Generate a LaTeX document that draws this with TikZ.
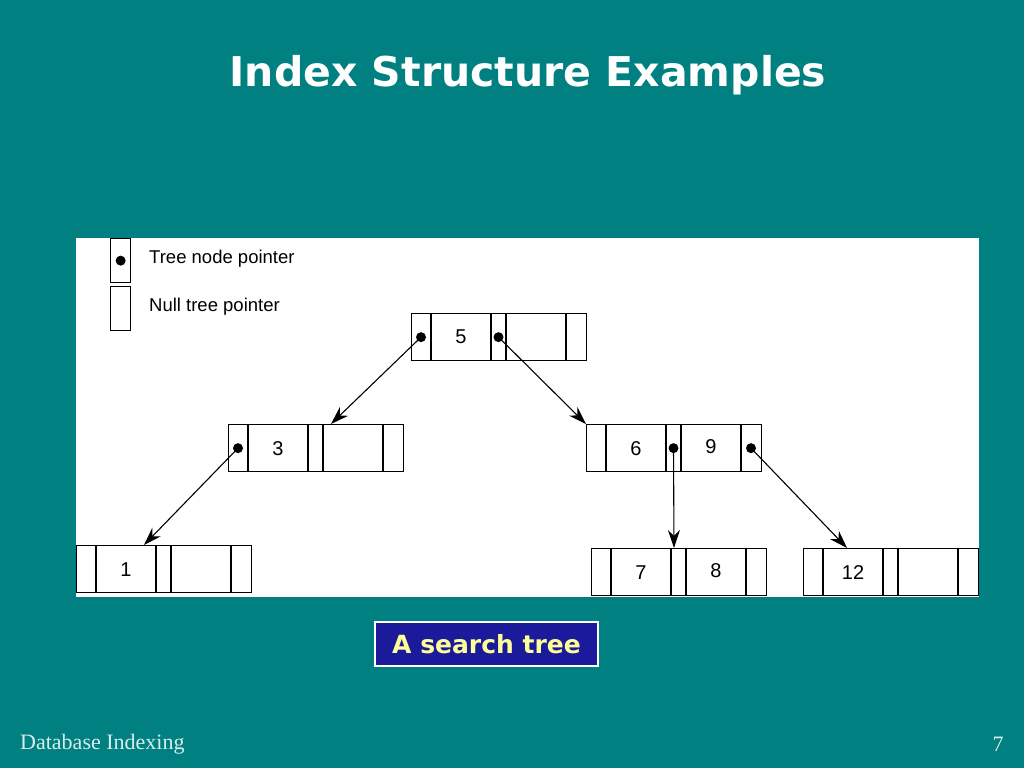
\documentclass[tikz,border=0pt]{standalone}
\usepackage{fontspec}
\setmainfont{Liberation Serif}
\newfontfamily\hv{Liberation Sans}
\newfontfamily\vd{DejaVu Sans}
\usetikzlibrary{arrows.meta,calc}
\definecolor{bg}{HTML}{008080}
\definecolor{capblue}{HTML}{1A1A9A}
\definecolor{capyel}{HTML}{FFFF99}
\tikzset{
  rec/.style={draw,line width=1.3pt,minimum width=175pt,minimum height=47pt,inner sep=0pt,fill=white},
  cell/.style={line width=1.3pt},
  dotp/.style={circle,fill=black,inner sep=0pt,minimum size=10pt},
  ptr/.style={line width=1.1pt,-{Stealth[length=18pt,width=12pt]}},
  lbl/.style={font=\hv\fontsize{20}{20}\selectfont}
}
% \recbox{name}{left x}{top y}{key1}{key2}
\newcommand{\recbox}[5]{%
  \node[rec,anchor=north west] (#1) at (#2,#3) {};
  \draw[cell] ($(#1.north west)+(20,0)$) -- ($(#1.south west)+(20,0)$);
  \draw[cell] ($(#1.north west)+(80,0)$) -- ($(#1.south west)+(80,0)$);
  \draw[cell] ($(#1.north west)+(95,0)$) -- ($(#1.south west)+(95,0)$);
  \draw[cell] ($(#1.north west)+(155,0)$) -- ($(#1.south west)+(155,0)$);
  \node[lbl] (#1k1) at ($(#1.west)+(50,0)$) {#4};
  \node[lbl] (#1k2) at ($(#1.west)+(125,-2)$) {#5};
  \coordinate (#1p0) at ($(#1.west)+(10,0)$);
  \coordinate (#1p1) at ($(#1.west)+(87.5,0)$);
  \coordinate (#1p2) at ($(#1.west)+(165,0)$);
}
\begin{document}
\begin{tikzpicture}[x=1pt,y=-1pt]
\fill[bg] (0,0) rectangle (1024,768);
\useasboundingbox (0,0) rectangle (1024,768);
\node[text=white,font=\vd\bfseries\fontsize{41}{41}\selectfont] (title) at (528,75) {Index Structure Examples};
\fill[white] (76,238) rectangle (979,597);
% legend
\node[draw,line width=1.3pt,minimum width=20pt,minimum height=44pt,inner sep=0pt,anchor=north west] (lg1) at (110,238) {};
\node[dotp] (lgd) at (lg1.center) {};
\node[draw,line width=1.3pt,minimum width=20pt,minimum height=44pt,inner sep=0pt,anchor=north west] (lg2) at (110,286) {};
\node[anchor=west,inner sep=0pt,font=\hv\fontsize{18.5}{18.5}\selectfont] (lt1) at (149,259) {Tree node pointer};
\node[anchor=west,inner sep=0pt,font=\hv\fontsize{18.5}{18.5}\selectfont] (lt2) at (149,307) {Null tree pointer};
% records
\recbox{a}{411}{313}{5}{}
\recbox{b}{228}{424}{3}{}
\recbox{c}{586}{424}{6}{9}
\recbox{d}{76}{545}{1}{}
\recbox{e}{591}{548}{7}{8}
\recbox{f}{803}{548}{12}{}
% dots
\foreach \p in {ap0,ap1,bp0,cp1,cp2} \node[dotp] (\p d) at (\p) {};
% pointers
\draw[ptr] (ap0) -- ($(b.north west)+(103,0)$);
\draw[ptr] (ap1) -- (c.north west);
\draw[ptr] (bp0) -- ($(d.north west)+(68,0)$);
\draw[ptr] (cp1) -- ($(e.north west)+(83,0)$);
\draw[ptr] (cp2) -- ($(f.north west)+(44,0)$);
% caption
\node[draw=white,line width=1.5pt,fill=capblue,text=capyel,font=\vd\bfseries\fontsize{25}{25}\selectfont,minimum width=223pt,minimum height=44pt,inner sep=0pt] (cap) at (486.5,644) {A search tree};
\node[text=white!85!bg,inner sep=0pt,font=\fontsize{22}{22}\selectfont,anchor=west] (foot) at (20,744) {Database Indexing};
\node[text=white!85!bg,font=\fontsize{22}{22}\selectfont] (pg) at (998,744) {7};
\end{tikzpicture}
\end{document}
